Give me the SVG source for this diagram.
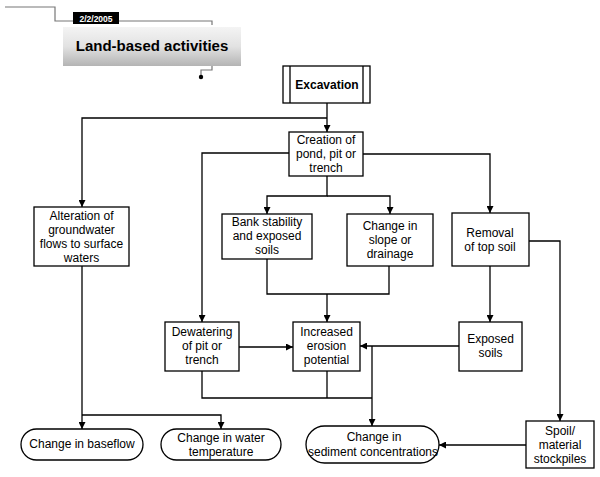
<svg xmlns="http://www.w3.org/2000/svg" width="600" height="477" viewBox="0 0 600 477">
<defs>
<linearGradient id="g" x1="0" y1="0" x2="0" y2="1">
<stop offset="0" stop-color="#f4f4f4"/>
<stop offset="0.5" stop-color="#e2e2e2"/>
<stop offset="1" stop-color="#b4b4b4"/>
</linearGradient>
<marker id="a" viewBox="0 0 10 10" refX="10" refY="5" markerWidth="7" markerHeight="7" markerUnits="userSpaceOnUse" orient="auto">
<path d="M0,0 L10,5 L0,10 z" fill="#000"/>
</marker>
</defs>
<style>
.b{fill:#fff;stroke:#000;stroke-width:1.3}
.t{font-family:"Liberation Sans",Arial,sans-serif;font-size:12px;fill:#000;text-anchor:middle}
.c{fill:none;stroke:#000;stroke-width:1.3}
.h{fill:none;stroke:#777;stroke-width:1.2}
</style>
<g id="header">
<path class="h" d="M5,7 H55 V21 H212 V25"/>
<rect x="63" y="27" width="178" height="39" fill="url(#g)"/>
<rect x="73" y="12" width="46" height="12" fill="#000"/>
<text x="96" y="21.5" font-family="Liberation Sans,Arial,sans-serif" font-size="8.5" font-weight="bold" fill="#fff" text-anchor="middle">2/2/2005</text>
<text x="152" y="51" font-family="Liberation Sans,Arial,sans-serif" font-size="15" font-weight="bold" fill="#000" text-anchor="middle">Land-based activities</text>
<path class="h" d="M212,66 V70 H201 V77" stroke="#333"/>
<circle cx="201" cy="77" r="2.2" fill="#000"/>
</g>
<g id="connectors">
<path class="c" d="M327,103 V132" marker-end="url(#a)"/>
<path class="c" d="M327,118 H82 V207" marker-end="url(#a)"/>
<path class="c" d="M289,153 H202 V322" marker-end="url(#a)"/>
<path class="c" d="M363,154 H490 V213" marker-end="url(#a)"/>
<path class="c" d="M327,176 V196 H267 V214" marker-end="url(#a)"/>
<path class="c" d="M327,196 H390 V214" marker-end="url(#a)"/>
<path class="c" d="M529,241 H560 V421" marker-end="url(#a)"/>
<path class="c" d="M490,266 V322" marker-end="url(#a)"/>
<path class="c" d="M267,259 V294 H389 V266"/>
<path class="c" d="M327,294 V322" marker-end="url(#a)"/>
<path class="c" d="M239,347 H293" marker-end="url(#a)"/>
<path class="c" d="M459,346 H360" marker-end="url(#a)"/>
<path class="c" d="M202,371 V398 H372"/>
<path class="c" d="M327,371 V398"/>
<path class="c" d="M372,346 V426" marker-end="url(#a)"/>
<path class="c" d="M526,445 H439" marker-end="url(#a)"/>
<path class="c" d="M82,266 V415 V429" marker-end="url(#a)"/>
<path class="c" d="M82,415 H221 V429" marker-end="url(#a)"/>
</g>
<g id="excavation">
<rect class="b" x="283" y="66" width="87" height="37"/>
<path class="c" d="M290,66 V103 M363,66 V103"/>
<text class="t" x="327" y="89" font-weight="bold">Excavation</text>
</g>
<g id="creation">
<rect class="b" x="289" y="132" width="74" height="44"/>
<text class="t" x="326" y="144">Creation of</text>
<text class="t" x="326" y="158">pond, pit or</text>
<text class="t" x="326" y="172">trench</text>
</g>
<g id="alteration">
<rect class="b" x="34" y="207" width="95" height="59"/>
<text class="t" x="81.5" y="220">Alteration of</text>
<text class="t" x="81.5" y="234">groundwater</text>
<text class="t" x="81.5" y="248">flows to surface</text>
<text class="t" x="81.5" y="262">waters</text>
</g>
<g id="bank">
<rect class="b" x="222" y="214" width="90" height="45"/>
<text class="t" x="267" y="226">Bank stability</text>
<text class="t" x="267" y="240">and exposed</text>
<text class="t" x="267" y="254">soils</text>
</g>
<g id="slope">
<rect class="b" x="347" y="214" width="86" height="52"/>
<text class="t" x="390" y="230">Change in</text>
<text class="t" x="390" y="244">slope or</text>
<text class="t" x="390" y="258">drainage</text>
</g>
<g id="removal">
<rect class="b" x="452" y="213" width="77" height="53"/>
<text class="t" x="490" y="237">Removal</text>
<text class="t" x="490" y="251">of top soil</text>
</g>
<g id="dewatering">
<rect class="b" x="165" y="322" width="74" height="49"/>
<text class="t" x="202" y="336">Dewatering</text>
<text class="t" x="202" y="350">of pit or</text>
<text class="t" x="202" y="364">trench</text>
</g>
<g id="erosion">
<rect class="b" x="293" y="322" width="67" height="49"/>
<text class="t" x="326.5" y="336">Increased</text>
<text class="t" x="326.5" y="350">erosion</text>
<text class="t" x="326.5" y="364">potential</text>
</g>
<g id="exposed">
<rect class="b" x="459" y="322" width="63" height="49"/>
<text class="t" x="490.5" y="343">Exposed</text>
<text class="t" x="490.5" y="357">soils</text>
</g>
<g id="spoil">
<rect class="b" x="526" y="421" width="68" height="47"/>
<text class="t" x="560" y="435">Spoil/</text>
<text class="t" x="560" y="449">material</text>
<text class="t" x="560" y="463">stockpiles</text>
</g>
<g id="baseflow">
<rect class="b" x="21" y="429" width="122" height="31" rx="15.5"/>
<text class="t" x="82" y="448">Change in baseflow</text>
</g>
<g id="temperature">
<rect class="b" x="161" y="429" width="120" height="31" rx="15.5"/>
<text class="t" x="221" y="442">Change in water</text>
<text class="t" x="221" y="456">temperature</text>
</g>
<g id="sediment">
<rect class="b" x="306" y="426" width="133" height="37" rx="18.5"/>
<text class="t" x="374" y="441">Change in</text>
<text class="t" x="373" y="456">sediment concentrations</text>
</g>
</svg>
